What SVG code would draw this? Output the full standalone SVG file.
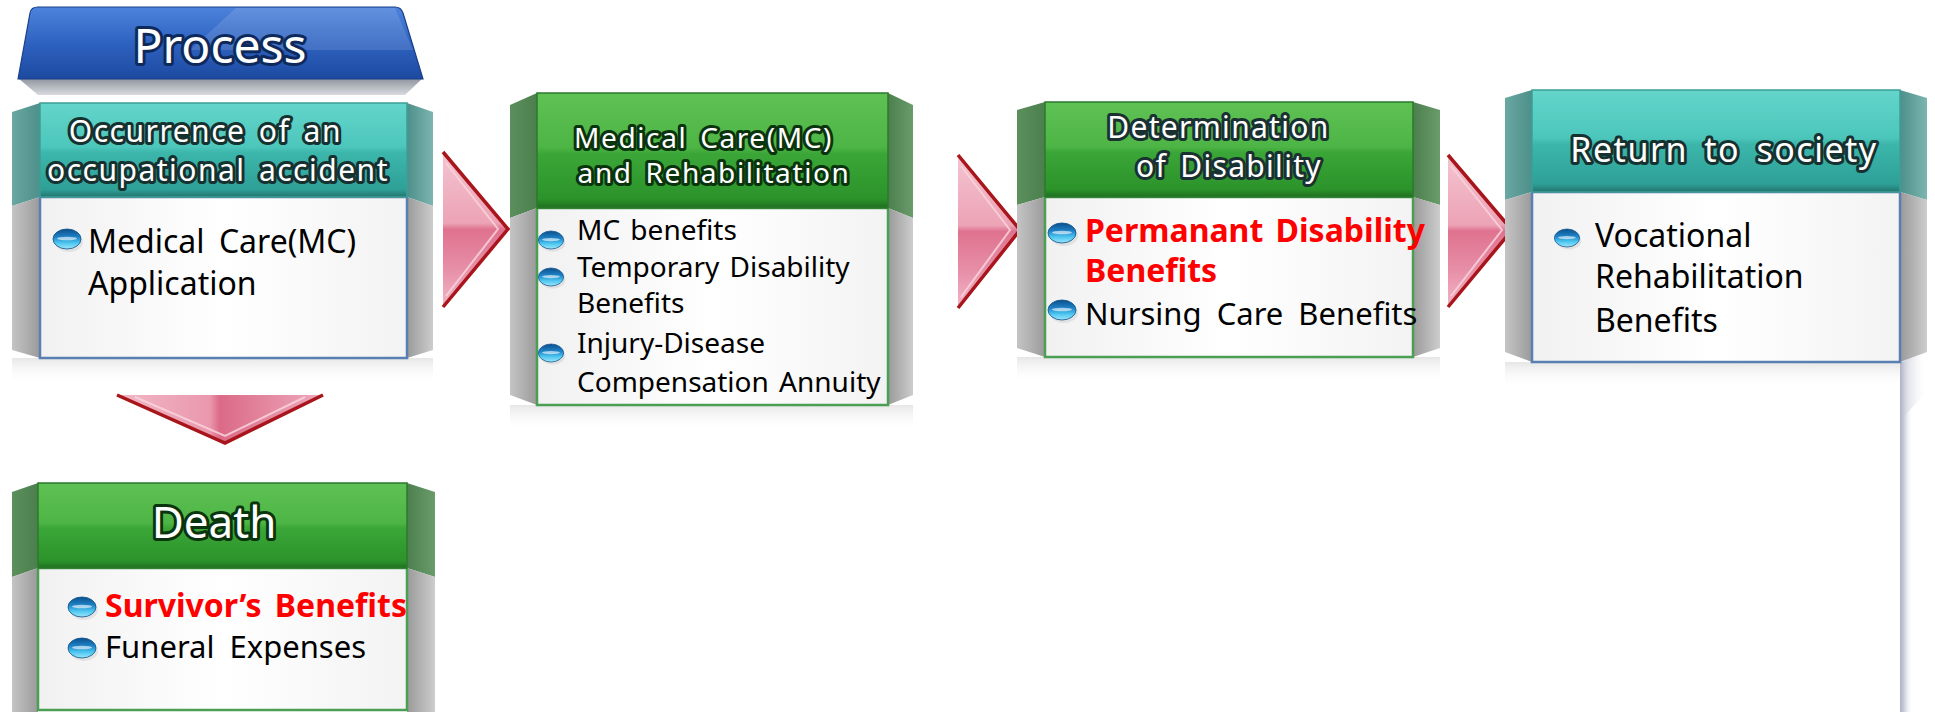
<svg xmlns="http://www.w3.org/2000/svg" xmlns:xlink="http://www.w3.org/1999/xlink" width="1935" height="712" viewBox="0 0 1935 712">
  <defs>
    <style>
      .hdr { font-family: "Noto Sans", "Open Sans", "Liberation Sans", sans-serif; fill: #ffffff; stroke-width: 6; paint-order: stroke; stroke-linejoin: round; text-anchor: middle; }
      .hdr-teal { stroke: #163230; }
      .hdr-green { stroke: #0a340d; }
      .hdr-slate { stroke: #1a3131; }
      .txt { font-family: "Noto Sans", "Open Sans", "Liberation Sans", sans-serif; fill: #000000; }
      .hot { fill: #ff0000; font-weight: bold; }
      .arrow-edge { fill: none; stroke: #a8161c; stroke-width: 3.5; stroke-linejoin: miter; }
      .arrow-bevel { fill: none; stroke: #f9d3db; stroke-width: 2; opacity: 0.85; }
      .hdr-box-teal { fill: url(#gHdrTeal); stroke: #3c9f97; stroke-width: 1.5; }
      .hdr-box-green { fill: url(#gHdrGreen); stroke: #2c7a2c; stroke-width: 1.5; }
      .body-teal { fill: url(#gBody); stroke: #5a7fb2; stroke-width: 2.5; }
      .body-green { fill: url(#gBody); stroke: #4a9f55; stroke-width: 2.5; }
      .reflect { fill: url(#gReflect); }
    </style>
    <linearGradient id="gHdrGreen" x1="0" y1="0" x2="0" y2="1">
      <stop offset="0" stop-color="#5fc154"/>
      <stop offset="0.47" stop-color="#4db545"/>
      <stop offset="0.53" stop-color="#3ba638"/>
      <stop offset="0.92" stop-color="#2b932a"/>
      <stop offset="1" stop-color="#1f6f20"/>
    </linearGradient>
    <linearGradient id="gHdrTeal" x1="0" y1="0" x2="0" y2="1">
      <stop offset="0" stop-color="#64d5cb"/>
      <stop offset="0.47" stop-color="#4cc6bb"/>
      <stop offset="0.53" stop-color="#3cb6ab"/>
      <stop offset="0.92" stop-color="#2ea097"/>
      <stop offset="1" stop-color="#22756e"/>
    </linearGradient>
    <linearGradient id="gWingGreenL" x1="0" y1="0" x2="1" y2="0">
      <stop offset="0" stop-color="#5b8f5c"/>
      <stop offset="1" stop-color="#4c7f4e"/>
    </linearGradient>
    <linearGradient id="gWingGreenR" x1="0" y1="0" x2="1" y2="0">
      <stop offset="0" stop-color="#4c7f4e"/>
      <stop offset="1" stop-color="#6a9b6b"/>
    </linearGradient>
    <linearGradient id="gWingTealL" x1="0" y1="0" x2="1" y2="0">
      <stop offset="0" stop-color="#6aa8a2"/>
      <stop offset="1" stop-color="#4d8f89"/>
    </linearGradient>
    <linearGradient id="gWingTealR" x1="0" y1="0" x2="1" y2="0">
      <stop offset="0" stop-color="#4d8f89"/>
      <stop offset="1" stop-color="#7db5b0"/>
    </linearGradient>
    <linearGradient id="gWingGrayL" x1="0" y1="0" x2="1" y2="0">
      <stop offset="0" stop-color="#c4c4c4"/>
      <stop offset="0.5" stop-color="#b0b0b0"/>
      <stop offset="1" stop-color="#9a9a9a"/>
    </linearGradient>
    <linearGradient id="gWingGrayR" x1="0" y1="0" x2="1" y2="0">
      <stop offset="0" stop-color="#9a9a9a"/>
      <stop offset="0.5" stop-color="#b3b3b3"/>
      <stop offset="1" stop-color="#cdcdcd"/>
    </linearGradient>
    <linearGradient id="gBody" x1="0" y1="0" x2="1" y2="0">
      <stop offset="0" stop-color="#f1f1f1"/>
      <stop offset="0.5" stop-color="#ffffff"/>
      <stop offset="1" stop-color="#f3f3f3"/>
    </linearGradient>
    <linearGradient id="gReflect" x1="0" y1="0" x2="0" y2="1">
      <stop offset="0" stop-color="#d6d6d6" stop-opacity="0.6"/>
      <stop offset="1" stop-color="#ffffff" stop-opacity="0"/>
    </linearGradient>
    <linearGradient id="gStrip" x1="0" y1="0" x2="1" y2="0">
      <stop offset="0" stop-color="#aeb2c4"/>
      <stop offset="0.3" stop-color="#c9ccd8"/>
      <stop offset="1" stop-color="#ffffff" stop-opacity="0"/>
    </linearGradient>
    <linearGradient id="gArrowR" x1="0" y1="0" x2="0" y2="1">
      <stop offset="0" stop-color="#f4c4d0"/>
      <stop offset="0.46" stop-color="#eca3b6"/>
      <stop offset="0.5" stop-color="#df728f"/>
      <stop offset="0.75" stop-color="#e78ea7"/>
      <stop offset="1" stop-color="#f1b6c6"/>
    </linearGradient>
    <linearGradient id="gArrowD" x1="0" y1="0" x2="1" y2="0">
      <stop offset="0" stop-color="#f1b8c7"/>
      <stop offset="0.45" stop-color="#ea98ad"/>
      <stop offset="0.5" stop-color="#db6a87"/>
      <stop offset="1" stop-color="#eeaabd"/>
    </linearGradient>
    <linearGradient id="gBul" x1="0" y1="0" x2="0" y2="1">
      <stop offset="0" stop-color="#0b4f8b"/>
      <stop offset="0.4" stop-color="#1f82c6"/>
      <stop offset="0.7" stop-color="#4cc6f0"/>
      <stop offset="1" stop-color="#9fe5fa"/>
    </linearGradient>
    <linearGradient id="gProcess" x1="0" y1="0" x2="0" y2="1">
      <stop offset="0" stop-color="#4d83dc"/>
      <stop offset="0.5" stop-color="#2e62c0"/>
      <stop offset="1" stop-color="#1c4aa0"/>
    </linearGradient>
    <linearGradient id="gProcessBase" x1="0" y1="0" x2="0" y2="1">
      <stop offset="0" stop-color="#8d939c"/>
      <stop offset="1" stop-color="#d8dbe0"/>
    </linearGradient>
    <!-- glossy blue bullet, centred on the origin -->
    <g id="bul">
      <ellipse cx="2" cy="3" rx="14" ry="10" fill="#000000" opacity="0.07"/>
      <ellipse rx="14" ry="10" fill="url(#gBul)" stroke="#0d5088" stroke-width="0.8"/>
      <ellipse cy="-0.5" rx="10" ry="1.8" fill="#ffffff" opacity="0.6"/>
    </g>
  </defs>

  <rect width="1935" height="712" fill="#ffffff"/>

  <!-- title banner -->
  <g id="title">
    <polygon points="18,78 423,78 405,95 38,95" fill="url(#gProcessBase)"/>
    <path d="M18,79 L30,13 Q31,7 38,7 L395,7 Q401,7 403,13 L423,79 Z" fill="url(#gProcess)" stroke="#1a3f88" stroke-width="1.2"/>
    <polygon points="236,8 395,8 413,50 190,50" fill="#ffffff" opacity="0.12"/>
    <text x="220" y="63" class="hdr" style="stroke:#0e2a5c; stroke-width:6" font-size="48">Process</text>
  </g>

  <!-- connectors -->
  <g id="connectors">
    <g id="arrow-1-2">
      <polygon points="443,152 508,229 443,307" fill="url(#gArrowR)"/>
      <path d="M446,163 L498,229 L446,296" class="arrow-bevel"/>
      <path d="M443,152 L508,229 L443,307" class="arrow-edge"/>
    </g>
    <g id="arrow-2-3">
      <polygon points="958,155 1020,230 958,308" fill="url(#gArrowR)"/>
      <path d="M961,166 L1010,230 L961,297" class="arrow-bevel"/>
      <path d="M958,155 L1020,230 L958,308" class="arrow-edge"/>
    </g>
    <g id="arrow-3-4">
      <polygon points="1448,155 1512,230 1448,307" fill="url(#gArrowR)"/>
      <path d="M1451,166 L1502,230 L1451,296" class="arrow-bevel"/>
      <path d="M1448,155 L1512,230 L1448,307" class="arrow-edge"/>
    </g>
    <g id="arrow-1-5">
      <polygon points="117,395 323,395 225,443" fill="url(#gArrowD)"/>
      <path d="M135,397 L225,436 L305,397" class="arrow-bevel"/>
      <path d="M117,395 L225,443 L323,395" class="arrow-edge"/>
    </g>
  </g>

  <!-- node: occurrence of an accident -->
  <g id="n1">
    <rect x="12" y="358" width="421" height="26" class="reflect"/>
    <polygon points="12,112 40,103 40,197 12,206" fill="url(#gWingTealL)"/>
    <polygon points="12,206 40,197 40,358 12,350" fill="url(#gWingGrayL)"/>
    <polygon points="407,103 433,112 433,206 407,197" fill="url(#gWingTealR)"/>
    <polygon points="407,197 433,206 433,350 407,358" fill="url(#gWingGrayR)"/>
    <rect x="40" y="197" width="367" height="161" class="body-teal"/>
    <rect x="40" y="103" width="367" height="94" class="hdr-box-teal"/>
    <text class="hdr hdr-teal" font-size="30" letter-spacing="1.5" word-spacing="4">
      <tspan x="212" y="142">Occurrence of an</tspan>
      <tspan x="218" y="181">occupational accident</tspan>
    </text>
    <use xlink:href="#bul" transform="translate(67,239)"/>
    <text class="txt" font-size="32" word-spacing="6">
      <tspan x="88" y="253">Medical Care(MC)</tspan>
      <tspan x="88" y="295">Application</tspan>
    </text>
  </g>

  <!-- node: medical care and rehabilitation -->
  <g id="n2">
    <rect x="510" y="405" width="403" height="26" class="reflect"/>
    <polygon points="510,105 537,93 537,208 510,218" fill="url(#gWingGreenL)"/>
    <polygon points="510,218 537,208 537,405 510,395" fill="url(#gWingGrayL)"/>
    <polygon points="888,93 913,105 913,218 888,208" fill="url(#gWingGreenR)"/>
    <polygon points="888,208 913,218 913,395 888,405" fill="url(#gWingGrayR)"/>
    <rect x="537" y="208" width="351" height="197" class="body-green"/>
    <rect x="537" y="93" width="351" height="115" class="hdr-box-green"/>
    <text class="hdr hdr-green" font-size="28" letter-spacing="1.6" word-spacing="4">
      <tspan x="710" y="148">Medical Care(MC)</tspan>
      <tspan x="714" y="183">and Rehabilitation</tspan>
    </text>
    <use xlink:href="#bul" transform="translate(551,240) scale(0.9)"/>
    <use xlink:href="#bul" transform="translate(551,277) scale(0.9)"/>
    <use xlink:href="#bul" transform="translate(551,353) scale(0.9)"/>
    <text class="txt" font-size="28" word-spacing="3">
      <tspan x="577" y="240">MC benefits</tspan>
      <tspan x="577" y="277">Temporary Disability</tspan>
      <tspan x="577" y="313">Benefits</tspan>
      <tspan x="577" y="353">Injury-Disease</tspan>
      <tspan x="577" y="392">Compensation Annuity</tspan>
    </text>
  </g>

  <!-- node: determination of disability -->
  <g id="n3">
    <rect x="1017" y="357" width="423" height="26" class="reflect"/>
    <polygon points="1017,110 1045,102 1045,197 1017,205" fill="url(#gWingGreenL)"/>
    <polygon points="1017,205 1045,197 1045,357 1017,348" fill="url(#gWingGrayL)"/>
    <polygon points="1413,102 1440,110 1440,205 1413,197" fill="url(#gWingGreenR)"/>
    <polygon points="1413,197 1440,205 1440,348 1413,357" fill="url(#gWingGrayR)"/>
    <rect x="1045" y="197" width="368" height="160" class="body-green"/>
    <rect x="1045" y="102" width="368" height="95" class="hdr-box-green"/>
    <text class="hdr hdr-slate" font-size="30" letter-spacing="1.3" word-spacing="4">
      <tspan x="1225" y="138">Determination</tspan>
      <tspan x="1229" y="177">of Disability</tspan>
    </text>
    <use xlink:href="#bul" transform="translate(1062,233)"/>
    <use xlink:href="#bul" transform="translate(1062,310)"/>
    <text class="txt hot" font-size="32" word-spacing="4">
      <tspan x="1085" y="242">Permanant Disability</tspan>
      <tspan x="1085" y="282">Benefits</tspan>
    </text>
    <text class="txt" font-size="31" word-spacing="7" x="1085" y="325">Nursing Care Benefits</text>
  </g>

  <!-- node: return to society -->
  <g id="n4">
    <rect x="1505" y="362" width="395" height="26" class="reflect"/>
    <polygon points="1900,362 1927,352 1927,392 1900,420" fill="url(#gStrip)" opacity="0.6"/>
    <rect x="1900" y="362" width="13" height="350" fill="url(#gStrip)"/>
    <polygon points="1505,98 1532,90 1532,192 1505,200" fill="url(#gWingTealL)"/>
    <polygon points="1505,200 1532,192 1532,362 1505,352" fill="url(#gWingGrayL)"/>
    <polygon points="1900,90 1927,98 1927,200 1900,192" fill="url(#gWingTealR)"/>
    <polygon points="1900,192 1927,200 1927,352 1900,362" fill="url(#gWingGrayR)"/>
    <rect x="1532" y="192" width="368" height="170" class="body-teal"/>
    <rect x="1532" y="90" width="368" height="102" class="hdr-box-teal"/>
    <text class="hdr hdr-teal" font-size="34" letter-spacing="1.5" word-spacing="6" x="1724" y="162">Return to society</text>
    <use xlink:href="#bul" transform="translate(1567,238) scale(0.9)"/>
    <text class="txt" font-size="32">
      <tspan x="1595" y="247">Vocational</tspan>
      <tspan x="1595" y="288">Rehabilitation</tspan>
      <tspan x="1595" y="332">Benefits</tspan>
    </text>
  </g>

  <!-- node: death -->
  <g id="n5">
    <polygon points="12,492 38,483 38,568 12,577" fill="url(#gWingGreenL)"/>
    <polygon points="12,577 38,568 38,712 12,712" fill="url(#gWingGrayL)"/>
    <polygon points="407,483 435,492 435,577 407,568" fill="url(#gWingGreenR)"/>
    <polygon points="407,568 435,577 435,712 407,712" fill="url(#gWingGrayR)"/>
    <rect x="38" y="568" width="369" height="142" class="body-green"/>
    <rect x="38" y="483" width="369" height="85" class="hdr-box-green"/>
    <text class="hdr hdr-green" font-size="44" x="214" y="538">Death</text>
    <use xlink:href="#bul" transform="translate(82,607)"/>
    <use xlink:href="#bul" transform="translate(82,648)"/>
    <text class="txt hot" font-size="32" word-spacing="5" x="105" y="617">Survivor’s Benefits</text>
    <text class="txt" font-size="31" word-spacing="7" x="105" y="658">Funeral Expenses</text>
  </g>
</svg>
